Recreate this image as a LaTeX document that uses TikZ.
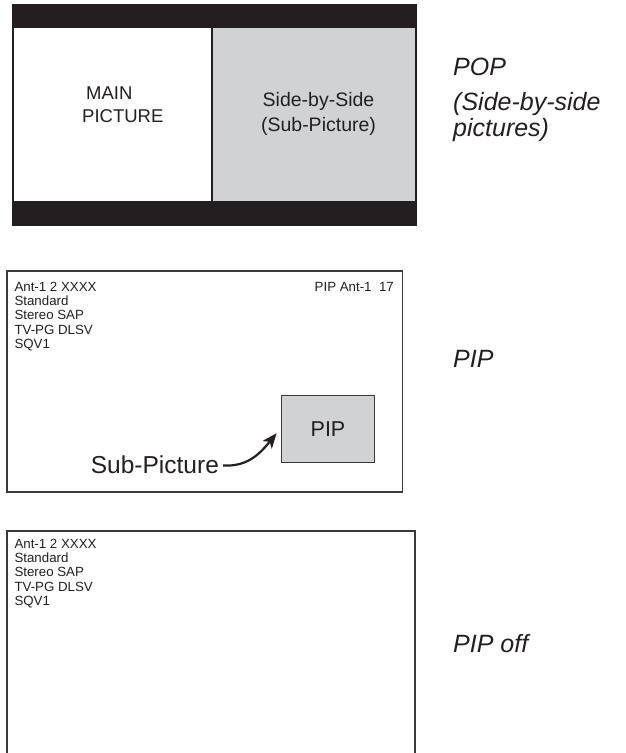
\documentclass[tikz,border=0pt]{standalone}
\usepackage{fontspec}
\setmainfont{Liberation Sans}
\usetikzlibrary{arrows.meta,calc}
\definecolor{barblack}{HTML}{231F20}
\definecolor{subgray}{HTML}{D1D2D4}
\definecolor{framegray}{HTML}{3A3A3A}
\definecolor{textblack}{HTML}{231F20}
\tikzset{
  smalltxt/.style={anchor=base west, inner sep=0pt, text=textblack, font=\fontsize{13.3}{14}\selectfont},
  midtxt/.style={anchor=base, inner sep=0pt, text=textblack, font=\fontsize{18.5}{20}\selectfont},
  sidelabel/.style={anchor=base west, inner sep=0pt, text=textblack, font=\fontsize{25}{28}\selectfont\itshape},
  frame/.style={draw=framegray, line width=1.2pt},
  pipbox/.style={draw=framegray, line width=1.1pt, fill=subgray, inner sep=0pt, text=textblack, font=\fontsize{21.5}{24}\selectfont},
  curvearrow/.style={draw=textblack, line width=2.2pt, -{Stealth[length=15pt,width=12pt,inset=4pt]}}
}
\begin{document}
\begin{tikzpicture}[x=1pt,y=-1pt]
\useasboundingbox (0,0) rectangle (625,753);

% ---- POP screen ----
\fill[barblack] (12,4) rectangle (417,226);
\fill[white] (14.3,28) rectangle (211.3,201);
\fill[subgray] (213.3,28) rectangle (415,201);
\node[midtxt, anchor=base west] (main1) at (86,99) {MAIN};
\node[midtxt, anchor=base west] (main2) at (82,122) {PICTURE};
\node[midtxt, font=\fontsize{19.5}{20}\selectfont] (sbs1) at (318.5,106.7) {Side-by-Side};
\node[midtxt, font=\fontsize{19.5}{20}\selectfont] (sbs2) at (318.5,131.7) {(Sub-Picture)};

\node[sidelabel] (pop1) at (453,75) {POP};
\node[sidelabel] (pop2) at (453,110) {(Side-by-side};
\node[sidelabel] (pop3) at (453,136) {pictures)};

% ---- PIP screen ----
\draw[frame] (7,271) rectangle (402.5,492);
\node[smalltxt] (p1) at (14.3,291.7) {Ant-1 2 XXXX};
\node[smalltxt] (p2) at (14.3,305.8) {Standard};
\node[smalltxt] (p3) at (14.3,319.9) {Stereo SAP};
\node[smalltxt] (p4) at (14.3,334.0) {TV-PG DLSV};
\node[smalltxt] (p5) at (14.3,348.1) {SQV1};
\node[smalltxt, anchor=base east] (pr) at (394,291.7) {PIP Ant-1~~17};
\node[pipbox, minimum width=92.6pt, minimum height=67.3pt] (pip) at (328,428.7) {PIP};
\node[sidelabel, font=\fontsize{24.5}{28}\selectfont] (sub) at (90.7,473.3) {Sub-Picture};
\coordinate (tip) at ($(pip.west)+(-4.5,4.5)$);
\draw[curvearrow] ($(sub.east)+(4,1)$) .. controls ($(sub.east)+(28,2)$) and ($(tip)+(-18,22)$) .. (tip);
\node[sidelabel] (piplab) at (453,367.3) {PIP};

% ---- PIP off screen ----
\draw[framegray, line width=1.4pt] (7,754) -- (7,531) -- (415,531) -- (415,754);
\node[smalltxt] (q1) at (14.3,548.7) {Ant-1 2 XXXX};
\node[smalltxt] (q2) at (14.3,562.8) {Standard};
\node[smalltxt] (q3) at (14.3,576.9) {Stereo SAP};
\node[smalltxt] (q4) at (14.3,591.0) {TV-PG DLSV};
\node[smalltxt] (q5) at (14.3,605.1) {SQV1};
\node[sidelabel] (offlab) at (453,652.3) {PIP off};
\end{tikzpicture}
\end{document}
